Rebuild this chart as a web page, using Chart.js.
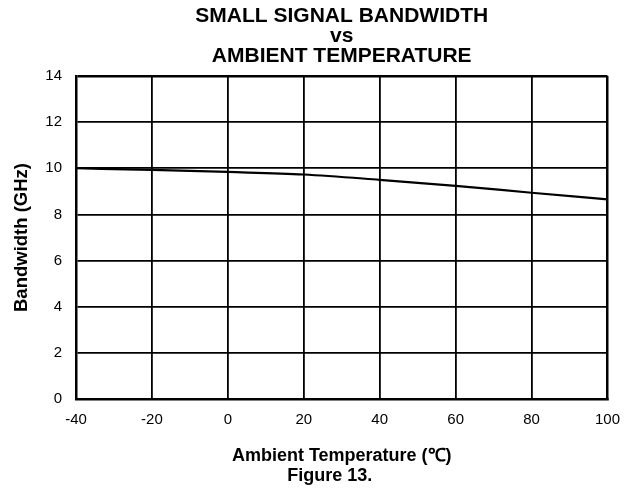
<!DOCTYPE html>
<html>
<head>
<meta charset="utf-8">
<title>Small Signal Bandwidth vs Ambient Temperature</title>
<script src="https://cdn.jsdelivr.net/npm/chart.js@4.4.1/dist/chart.umd.min.js"></script>
<style>
    html, body { margin: 0; padding: 0; background: #fff; }
    #wrap { width: 632px; height: 496px; position: relative; }
</style>
</head>
<body>
<div id="wrap"><canvas id="bwChart"></canvas></div>
<script>
// ==================== DATA ====================
const temps = [-40, -20, 0, 20, 40, 60, 80, 100];          // °C
const bandwidth = [10.0, 9.93, 9.84, 9.73, 9.50, 9.24, 8.94, 8.65]; // GHz
const xTicks = [-40, -20, 0, 20, 40, 60, 80, 100];
const yTicks = [0, 2, 4, 6, 8, 10, 12, 14];
const titleLines = ['SMALL SIGNAL BANDWIDTH', 'vs', 'AMBIENT TEMPERATURE'];
const xLabel = 'Ambient Temperature (\u2103)';
const yLabel = 'Bandwidth (GHz)';
const figureCaption = 'Figure 13.';

const FONT = "'Liberation Sans', Arial, Helvetica, sans-serif";

// Draws the figure caption under the x axis title
const captionPlugin = {
    id: 'caption',
    afterDraw(chart) {
        const ctx = chart.ctx;
        const area = chart.chartArea;
        ctx.save();
        ctx.font = 'bold 18px ' + FONT;
        ctx.fillStyle = '#000';
        ctx.textAlign = 'center';
        ctx.textBaseline = 'middle';
        ctx.fillText(figureCaption, (area.left + area.right) / 2 - 12, 476);
        ctx.restore();
    }
};

document.addEventListener('DOMContentLoaded', function() {
    const ctx = document.getElementById('bwChart').getContext('2d');

    new Chart(ctx, {
        type: 'line',
        data: {
            datasets: [{
                label: 'Bandwidth',
                data: temps.map((t, i) => ({ x: t, y: bandwidth[i] })),
                borderColor: '#000',
                borderWidth: 2.2,
                pointRadius: 0,
                fill: false,
                tension: 0.4,
                cubicInterpolationMode: 'monotone'
            }]
        },
        options: {
            responsive: true,
            maintainAspectRatio: false,
            animation: false,
            layout: {
                padding: { top: 0, right: 23, bottom: 0, left: 0 }
            },
            plugins: {
                legend: { display: false },
                tooltip: { enabled: false },
                title: {
                    display: true,
                    text: titleLines,
                    fullSize: false,
                    color: '#000',
                    font: { family: FONT, size: 21, weight: 'bold', lineHeight: 0.952 },
                    padding: { top: 6, bottom: 10 }
                }
            },
            scales: {
                x: {
                    type: 'linear',
                    min: -40,
                    max: 100,
                    afterBuildTicks: axis => { axis.ticks = xTicks.map(v => ({ value: v })); },
                    afterFit: axis => { axis.height = 97; },
                    grid: {
                        color: '#000',
                        lineWidth: c => (c.tick && c.tick.value === 100 ? 2.5 : 1.8),
                        drawTicks: false
                    },
                    border: { display: true, color: '#000', width: 2.5 },
                    ticks: {
                        color: '#000',
                        padding: 12,
                        maxRotation: 0,
                        font: { family: FONT, size: 15 }
                    },
                    title: {
                        display: true,
                        text: xLabel,
                        color: '#000',
                        font: { family: FONT, size: 18, weight: 'bold' },
                        padding: { top: 0, bottom: 29 }
                    }
                },
                y: {
                    min: 0,
                    max: 14,
                    afterBuildTicks: axis => { axis.ticks = yTicks.map(v => ({ value: v })); },
                    afterFit: axis => { axis.width = 76; },
                    grid: {
                        color: '#000',
                        lineWidth: c => (c.tick && c.tick.value === 14 ? 2.5 : 1.8),
                        drawTicks: false
                    },
                    border: { display: true, color: '#000', width: 2.5 },
                    ticks: {
                        color: '#000',
                        padding: 14,
                        font: { family: FONT, size: 15 }
                    },
                    title: {
                        display: true,
                        text: yLabel,
                        color: '#000',
                        font: { family: FONT, size: 18.5, weight: 'bold' },
                        padding: { top: 11, bottom: 0 }
                    }
                }
            }
        },
        plugins: [captionPlugin]
    });
});
</script>
</body>
</html>
